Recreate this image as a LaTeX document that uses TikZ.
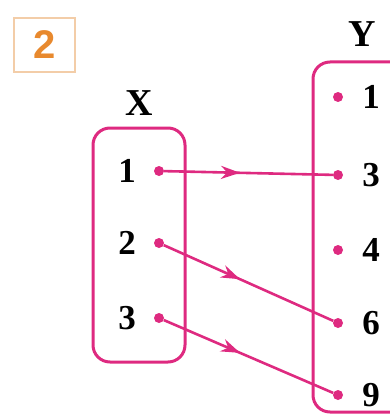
\documentclass[tikz,border=0pt]{standalone}
\usepackage{fontspec}
\setmainfont{Liberation Serif}
\newfontfamily\tagfont{Liberation Sans}
\usepackage{tikz}
\usetikzlibrary{arrows.meta,decorations.markings}

\begin{document}
\begin{tikzpicture}[x=1pt,y=-1pt]
\definecolor{setPink}{HTML}{DE2A80}
\definecolor{tagOrange}{HTML}{E8892E}
\definecolor{tagFrame}{HTML}{F3CDA8}
\tikzset{
  setdot/.style={circle,fill=setPink,inner sep=0pt,minimum size=10pt},
  elem/.style={font=\fontsize{35}{38}\selectfont\bfseries,inner sep=0pt},
  setname/.style={font=\fontsize{38}{40}\selectfont\bfseries,inner sep=0pt},
  maparrow/.style={setPink,line width=2.6pt,decoration={markings,
    mark=at position 0.45 with {\arrow{Stealth[length=19pt,width=13pt]}}},postaction={decorate}}
}
\useasboundingbox (0,0) rectangle (390,417);
\clip (0,0) rectangle (390,417);
% exercise number
\draw[tagFrame,line width=1.8pt] (14,18) rectangle (75,72);
\node[text=tagOrange,font=\fontsize{40}{42}\selectfont\tagfont\bfseries] (tag) at (44.5,45) {2};
% set X
\node[setname] (nameX) at (139,103) {X};
\draw[setPink,line width=3pt,rounded corners=17pt] (93,128) rectangle (185,362);
\foreach \i/\y in {1/171,2/243,3/318} {
  \node[elem] (lx\i) at (127,\y) {\i};
  \node[setdot] (x\i) at (159,\y) {};
}
% set Y
\node[setname] (nameY) at (362,34) {Y};
\draw[setPink,line width=3pt,rounded corners=17pt] (313,62) rectangle (420,412);
\foreach \j/\y in {1/97,3/175,4/250,6/323,9/395} {
  \node[setdot] (y\j) at (338,\y) {};
  \node[elem] (ly\j) at (371,\y) {\j};
}
% mapping
\draw[maparrow] (x1) -- (y3);
\draw[maparrow] (x2) -- (y6);
\draw[maparrow] (x3) -- (y9);
\end{tikzpicture}
\end{document}
